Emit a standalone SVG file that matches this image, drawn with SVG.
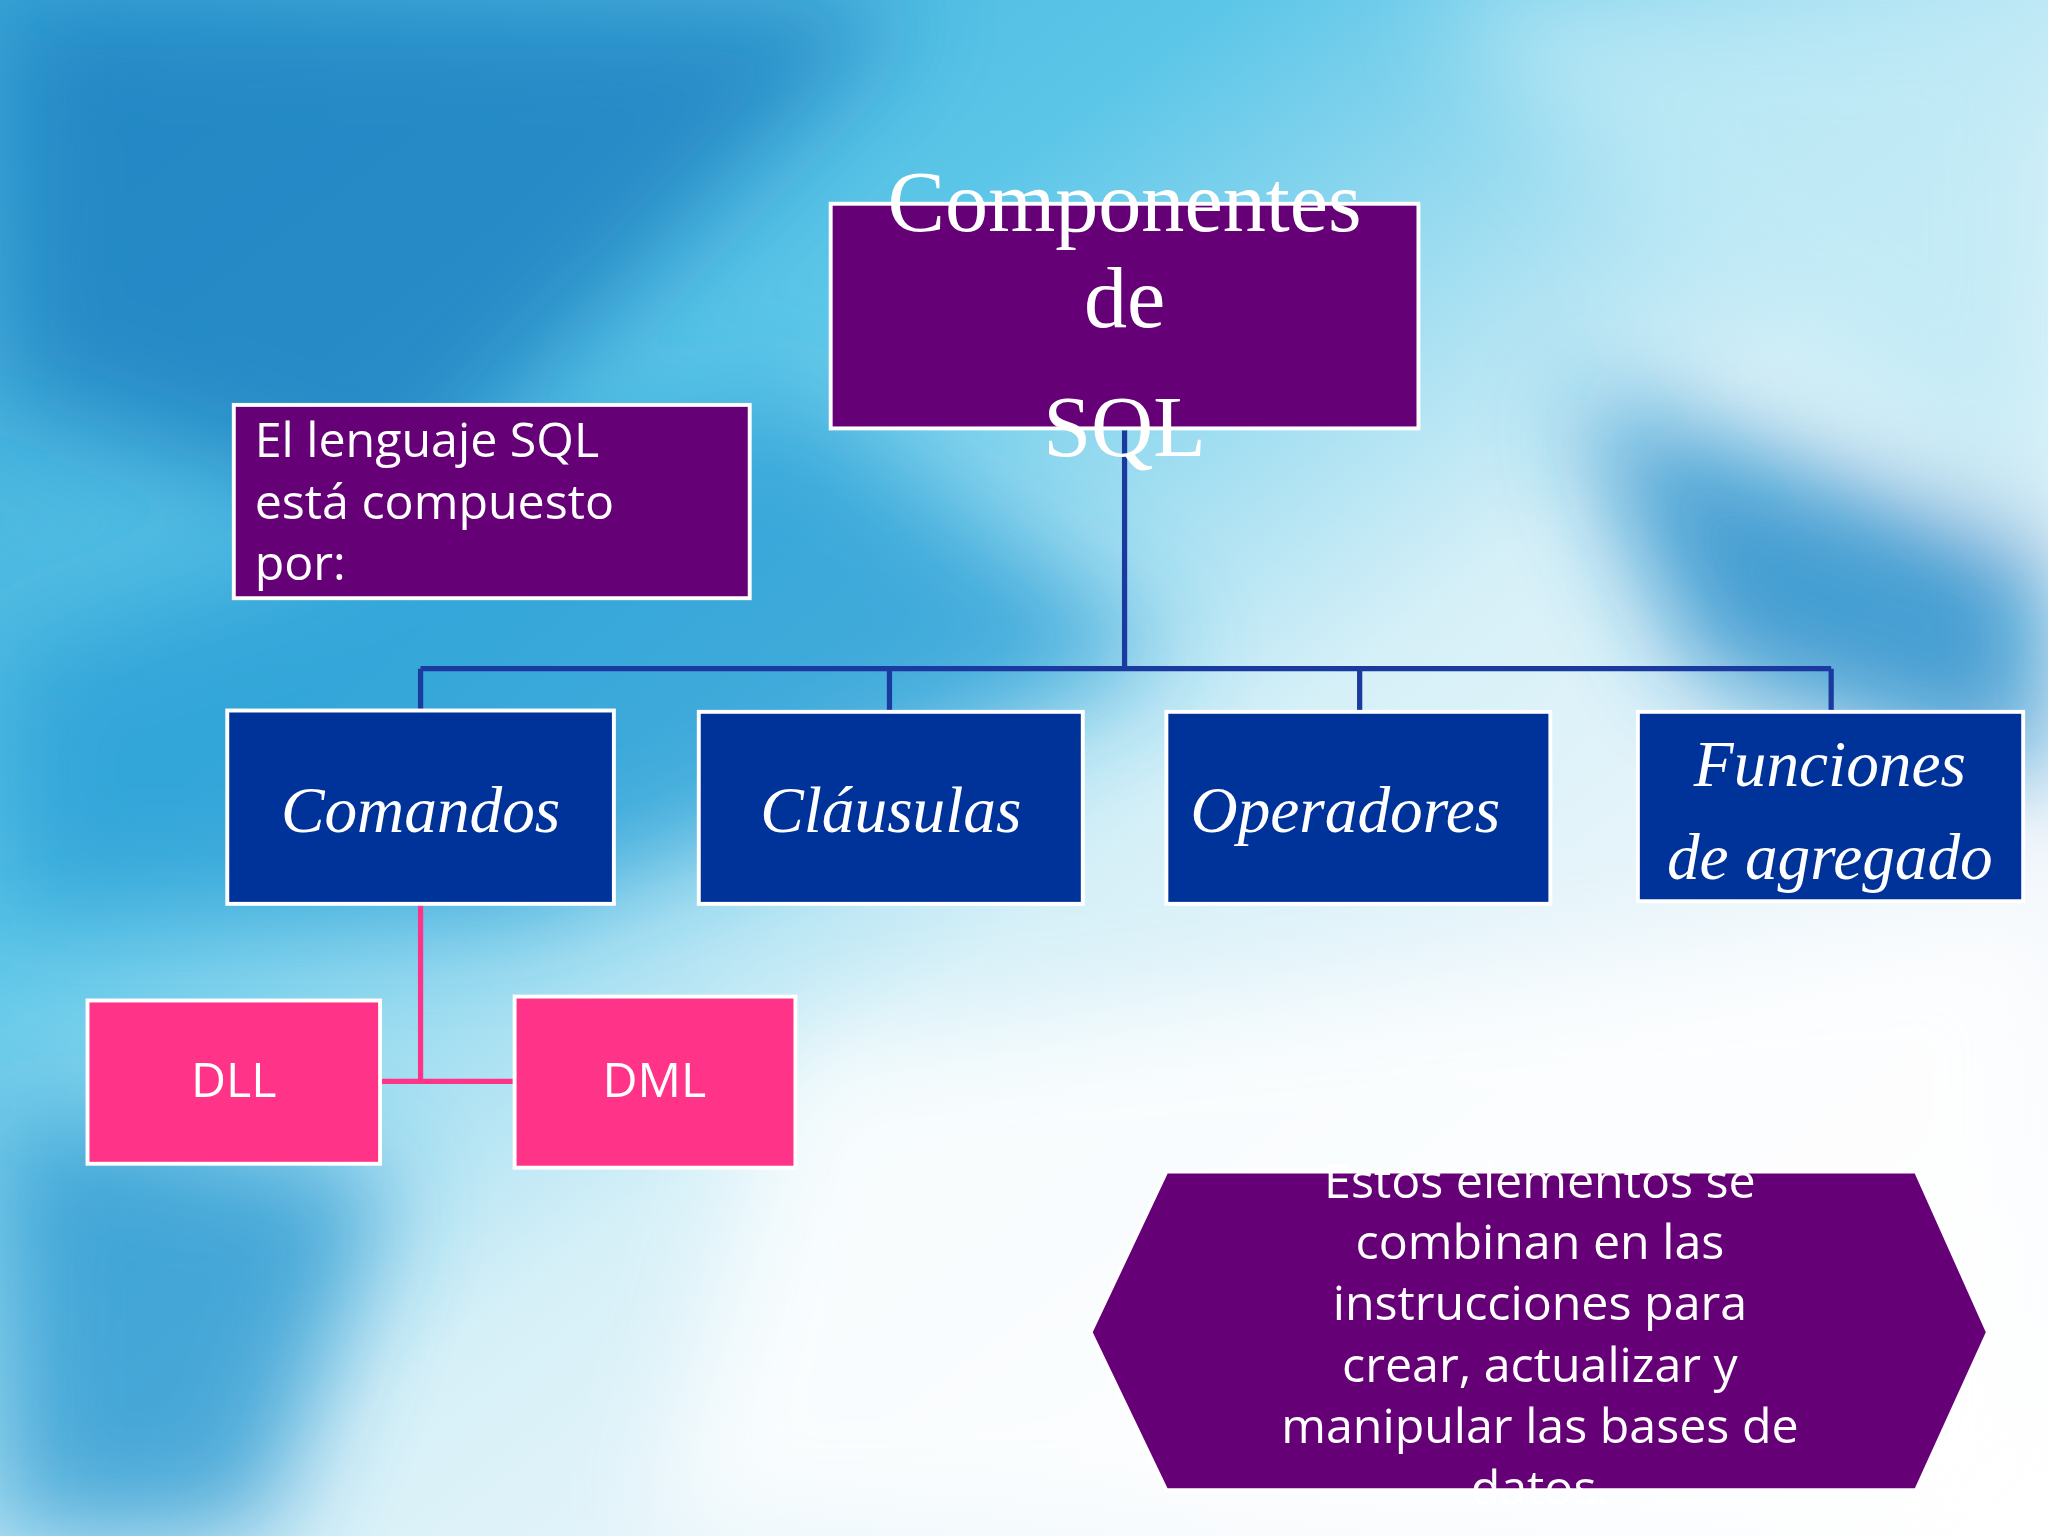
<svg xmlns="http://www.w3.org/2000/svg" width="2048" height="1536" viewBox="0 0 2048 1536">
<defs>
<linearGradient id="bg" x1="0" y1="0" x2="1" y2="1">
<stop offset="0" stop-color="#3aa8d8"/>
<stop offset="0.3" stop-color="#5cc6e8"/>
<stop offset="0.55" stop-color="#d6f0f8"/>
<stop offset="0.8" stop-color="#f4f8fc"/>
<stop offset="1" stop-color="#ffffff"/>
</linearGradient>
<filter id="blur" x="-20%" y="-20%" width="140%" height="140%"><feGaussianBlur stdDeviation="40"/></filter>
<style>
.pur{fill:#660077;stroke:#fff;stroke-width:3}
.blu{fill:#003399;stroke:#fff;stroke-width:3}
.pnk{fill:#ff3388;stroke:#fff;stroke-width:3}
.sans{font-family:"Open Sans","Liberation Sans",sans-serif;fill:#fff}
.scr{font-family:"Liberation Serif",serif;font-style:italic;fill:#fff;font-size:50px}
.ser{font-family:"Liberation Serif",serif;fill:#fff;font-size:66px}
</style>
</defs>
<g transform="scale(1.30612)">
<rect width="1568" height="1176" fill="url(#bg)"/>
<g filter="url(#blur)" opacity="0.8">
<path d="M0 0 H700 L300 400 L0 300Z" fill="#1a7fc0"/>
<path d="M0 500 L600 300 L900 500 L400 700 L0 700Z" fill="#2a9fd6"/>
<path d="M1100 0 H1568 V400 L1300 200Z" fill="#bfeaf6"/>
<path d="M1200 300 L1568 420 V600 L1300 520Z" fill="#1a88c8"/>
<path d="M0 850 L300 900 L200 1176 H0Z" fill="#2a98d0"/>
<path d="M600 800 L1568 700 V1176 H500Z" fill="#ffffff"/>
</g>
<g id="connectors" fill="none" stroke-width="4">
<path d="M861 328 V512 M322 512 H1402 M322 512 V545 M681 512 V545 M1041 512 V545 M1402 512 V545" stroke="#1a3aa0"/>
<path d="M322 692 V828 M291 828 H394" stroke="#ff3388"/>
</g>
<g id="title"><rect class="pur" x="636" y="156" width="450" height="172"/>
<text class="ser" text-anchor="middle" x="861" y="177">Componentes</text>
<text class="ser" text-anchor="middle" x="861" y="250">de</text>
<text class="ser" text-anchor="middle" x="861" y="349">SQL</text></g>
<g id="intro"><rect class="pur" x="179" y="310" width="395" height="148"/>
<text class="sans" font-size="37" x="195" y="350">El lenguaje SQL</text>
<text class="sans" font-size="37" x="195" y="397">está compuesto</text>
<text class="sans" font-size="37" x="195" y="444">por:</text></g>
<g id="comandos"><rect class="blu" x="174" y="544" width="296" height="148"/><text class="scr" text-anchor="middle" x="322" y="637">Comandos</text></g>
<g id="clausulas"><rect class="blu" x="535" y="545" width="294" height="147"/><text class="scr" text-anchor="middle" x="682" y="637">Cláusulas</text></g>
<g id="operadores"><rect class="blu" x="893" y="545" width="294" height="147"/><text class="scr" text-anchor="middle" x="1030" y="637">Operadores</text></g>
<g id="funciones"><rect class="blu" x="1254" y="545" width="295" height="145"/><text class="scr" text-anchor="middle" x="1401" y="602">Funciones</text><text class="scr" text-anchor="middle" x="1401" y="673">de  agregado</text></g>
<g id="dll"><rect class="pnk" x="67" y="766" width="224" height="125"/><text class="sans" font-size="37" text-anchor="middle" x="179" y="840">DLL</text></g>
<g id="dml"><rect class="pnk" x="394" y="763" width="215" height="131"/><text class="sans" font-size="37" text-anchor="middle" x="501" y="840">DML</text></g>
<g id="nota"><polygon class="pur" points="835,1020 893,897 1467,897 1522,1020 1467,1141 893,1141"/>
<g class="sans" font-size="37" text-anchor="middle">
<text x="1179" y="917">Estos elementos se</text>
<text x="1179" y="964">combinan en las</text>
<text x="1179" y="1011">instrucciones para</text>
<text x="1179" y="1058">crear, actualizar y</text>
<text x="1179" y="1105">manipular las bases de</text>
<text x="1179" y="1152">datos.</text></g></g>
</g>
</svg>
